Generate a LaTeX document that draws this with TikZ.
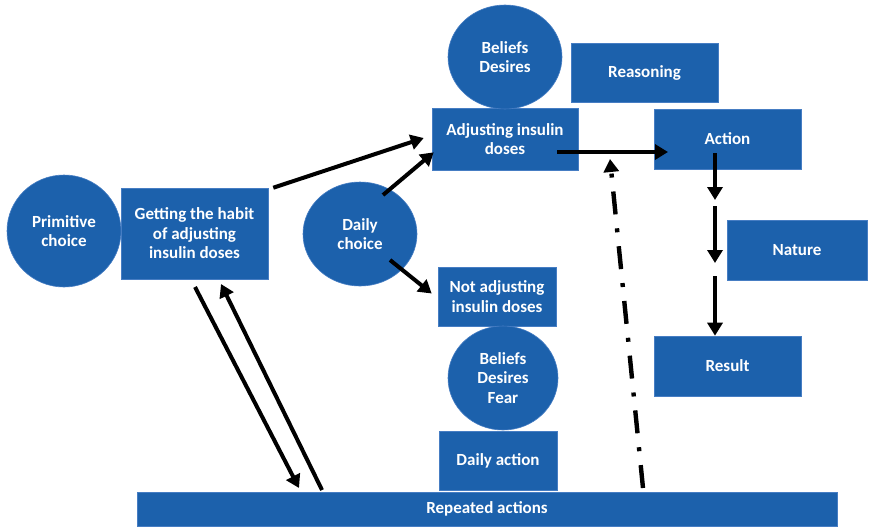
\documentclass[tikz,border=0pt]{standalone}
\usepackage{fontspec}
\setmainfont{Carlito}
\usetikzlibrary{arrows.meta,shapes.geometric}
\definecolor{boxblue}{RGB}{28,97,172}
\definecolor{edgeblue}{RGB}{70,125,195}
\tikzset{
  base/.style={fill=boxblue, draw=edgeblue, line width=0.6pt, text=white,
    font=\fontsize{17}{19.5}\selectfont\bfseries, align=center, inner sep=0pt},
  box/.style n args={2}{base, rectangle, minimum width=#1, minimum height=#2},
  oval/.style n args={2}{base, ellipse, minimum width=#1, minimum height=#2},
  link/.style={line width=4pt, -{Triangle[length=13pt,width=15pt]}},
  dashdotlink/.style={link, line width=4.4pt, dash pattern=on 23pt off 14pt on 4pt off 14pt},
}
\begin{document}
\begin{tikzpicture}[x=1pt,y=-1pt]
\useasboundingbox (0,0) rectangle (869,528);

% boxes
\node[box={147pt}{91pt}] (habit) at (194.5,233.5) {Getting the habit\\of adjusting\\insulin doses};
\node[box={146pt}{62pt}] (adj) at (505,139) {Adjusting insulin\\doses};
\node[box={147pt}{59pt}] (reason) at (644.5,72.5) {Reasoning};
\node[box={147pt}{60pt}] (action) at (727.5,139) {Action};
\node[box={140pt}{60pt}] (nature) at (797,250) {Nature};
\node[box={147pt}{60pt}] (result) at (727.5,366) {Result};
\node[box={118pt}{59pt}] (notadj) at (497,296.5) {Not adjusting\\insulin doses};
\node[box={118pt}{59pt}] (dailyact) at (498,460.5) {Daily action};
\node[box={700pt}{34pt}] (repeated) at (487,509) {Repeated actions};

% ovals
\node[oval={114pt}{112pt}] (prim) at (64,231) {Primitive\\choice};
\node[oval={114pt}{104pt}] (bd) at (505,57) {Beliefs\\Desires};
\node[oval={114pt}{104pt}] (daily) at (360,234) {Daily\\choice};
\node[oval={110pt}{104pt}] (bdf) at (503,378) {Beliefs\\Desires\\Fear};

% connector end points lying inside shapes
\coordinate (dailyA) at (383,195);
\coordinate (dailyB) at (390,260);
\coordinate (adjOut) at (557,152);
\coordinate (actIn) at (668,152);
\coordinate (actOut) at (715,153);
\coordinate (step1) at (715,200);
\coordinate (step2a) at (715,206);
\coordinate (step2b) at (715,263);
\coordinate (step3) at (715,276);
\coordinate (habitDown) at (195,287);
\coordinate (habitUp) at (221,284);
\coordinate (repDown) at (299,488);
\coordinate (repUp) at (322,490);
\coordinate (repDash) at (643,488);
\coordinate (gapTip) at (610,159);

% connectors
\draw[link] (habit.north east) ++(5,0) -- ([xshift=-8pt,yshift=1pt]adj.west);
\draw[link] (dailyA) -- ([xshift=2pt,yshift=18pt]adj.south west);
\draw[link] (dailyB) -- ([xshift=-6pt,yshift=3pt]notadj.west);
\draw[link] (adjOut) -- (actIn);
\draw[link] (actOut) -- (step1);
\draw[link] (step2a) -- (step2b);
\draw[link] (step3) -- (result.north -| step3);
\draw[link] (habitDown) -- (repDown);
\draw[link] (repUp) -- (habitUp);
\draw[dashdotlink] (repDash) -- (gapTip);
\end{tikzpicture}
\end{document}
